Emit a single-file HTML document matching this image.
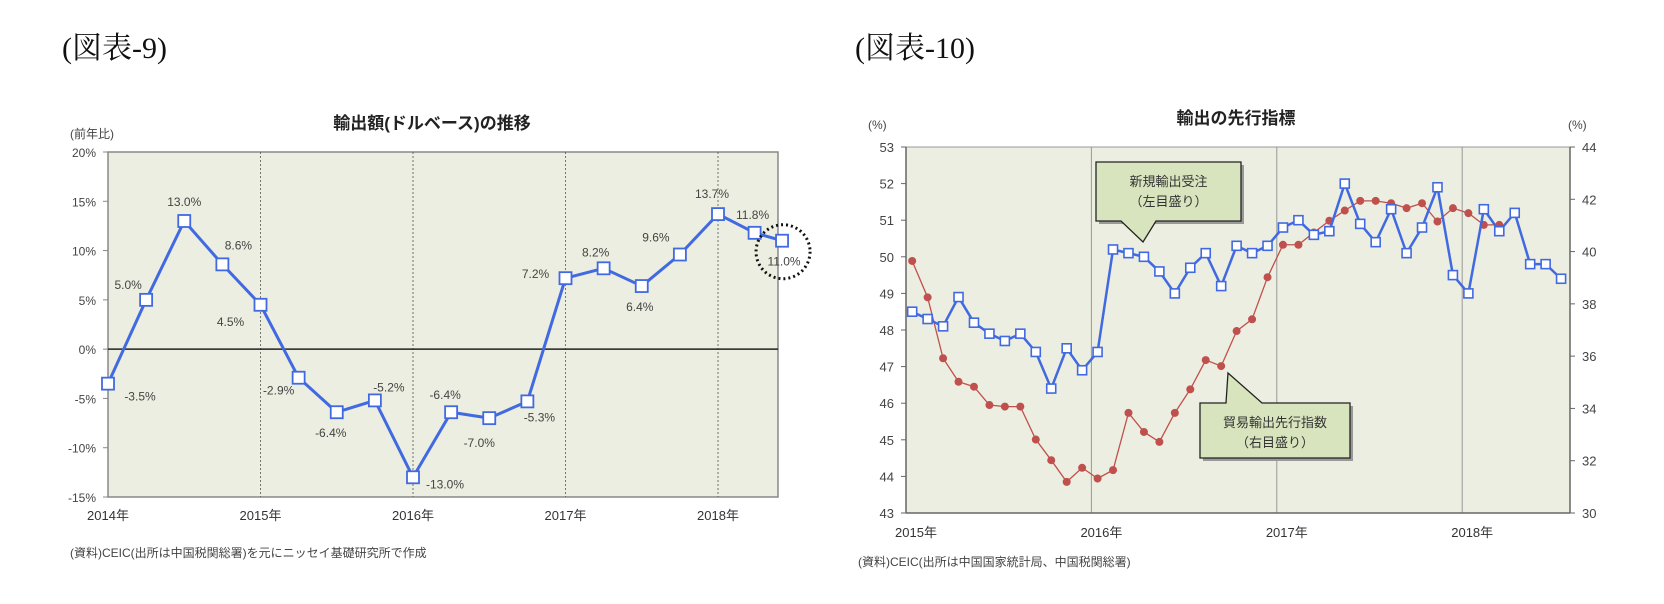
<!DOCTYPE html>
<html><head><meta charset="utf-8"><style>
html,body{margin:0;padding:0;background:#fff;}
svg{display:block;font-family:"Liberation Sans","Noto Sans CJK JP",sans-serif;}
</style></head><body>
<svg id="root" width="1664" height="604" viewBox="0 0 1664 604" xmlns="http://www.w3.org/2000/svg">
<text x="62" y="58" font-family="Liberation Serif, Noto Serif CJK SC, serif" font-size="30" fill="#111">(図表-9)</text>
<text x="855" y="58" font-family="Liberation Serif, Noto Serif CJK SC, serif" font-size="30" fill="#111">(図表-10)</text>
<g id="c1"></g>
<g id="c2"></g>
</svg>
<script>
// ---- Chart 1 data ----
const c1Times = [0,0.25,0.5,0.75,1,1.25,1.5,1.75,2,2.25,2.5,2.75,3,3.25,3.5,3.75,4,4.24,4.42];
const c1Values = [-3.5,5.0,13.0,8.6,4.5,-2.9,-6.4,-5.2,-13.0,-6.4,-7.0,-5.3,7.2,8.2,6.4,9.6,13.7,11.8,11.0];
const c1YTicks = [20,15,10,5,0,-5,-10,-15];
const c1XLabels = ["2014年","2015年","2016年","2017年","2018年"];
// ---- Chart 2 data ----
const c2Orders = [48.5,48.3,48.1,48.9,48.2,47.9,47.7,47.9,47.4,46.4,47.5,46.9,47.4,50.2,50.1,50.0,49.6,49.0,49.7,50.1,49.2,50.3,50.1,50.3,50.8,51.0,50.6,50.7,52.0,50.9,50.4,51.3,50.1,50.8,51.9,49.5,49.0,51.3,50.7,51.2,49.8,49.8,49.4];
const c2Index = [39.64,38.25,35.92,35.02,34.83,34.13,34.07,34.07,32.81,32.02,31.19,31.73,31.32,31.64,33.83,33.10,32.72,33.83,34.73,35.85,35.62,36.96,37.41,39.02,40.26,40.26,40.73,41.18,41.57,41.94,41.94,41.85,41.66,41.85,41.15,41.66,41.47,41.02,41.02];
const c2LeftTicks = [53,52,51,50,49,48,47,46,45,44,43];
const c2RightTicks = [44,42,40,38,36,34,32,30];
const c2XLabels = ["2015年","2016年","2017年","2018年"];

const NS="http://www.w3.org/2000/svg";
function mk(p,tag,a,txt){const e=document.createElementNS(NS,tag);for(const k in a)e.setAttribute(k,a[k]);if(txt!==undefined)e.textContent=txt;p.appendChild(e);return e;}

// ===== Chart 1 =====
(function(){
const g=document.getElementById('c1');
const L=108,R=778,T=152,B=497;
const y=v=>T+(20-v)/35*(B-T);
const x=t=>L+t*152.5;
let e;
e=mk(g,'rect',{x:L,y:T,width:R-L,height:B-T,fill:'#ebeee0',stroke:'#888','stroke-width':1.5});


for(let i=1;i<c1XLabels.length;i++){e=mk(g,'line',{x1:x(i),x2:x(i),y1:T,y2:B,stroke:'#555','stroke-width':0.8,'stroke-dasharray':'2,2'});

}
e=mk(g,'line',{x1:L,x2:R,y1:y(0),y2:y(0),stroke:'#222','stroke-width':1.5});


c1YTicks.forEach(v=>{e=mk(g,'text',{x:L-12,y:y(v)+5,'text-anchor':'end','font-size':12,fill:'#444'},v+'%');


mk(g,'line',{x1:L-5,x2:L,y1:y(v),y2:y(v),stroke:'#888'});});
c1XLabels.forEach((s,i)=>{e=mk(g,'text',{x:x(i),y:520,'text-anchor':'middle','font-size':13,fill:'#333'},s);

});
e=mk(g,'text',{x:432,y:129,'text-anchor':'middle','font-size':17,'font-weight':'bold',fill:'#222'},'輸出額(ドルベース)の推移');


e=mk(g,'text',{x:70,y:138,'font-size':12,fill:'#444'},'(前年比)');


e=mk(g,'text',{x:70,y:557,'font-size':12,fill:'#444'},'(資料)CEIC(出所は中国税関総署)を元にニッセイ基礎研究所で作成');


const pts=c1Values.map((v,i)=>x(c1Times[i])+','+y(v)).join(' ');
e=mk(g,'polyline',{points:pts,fill:'none',stroke:'#4169e1','stroke-width':3,'stroke-linejoin':'round'});


const off=[[32,12],[-18,-16],[0,-20],[16,-20],[-30,16],[-20,12],[-6,20],[14,-14],[32,6],[-6,-18],[-10,24],[12,15],[-30,-5],[-8,-17],[-2,20],[-24,-18],[-6,-21],[-2,-19],[2,20]];
c1Values.forEach((v,i)=>{const cx=x(c1Times[i]),cy=y(v);
e=mk(g,'rect',{x:cx-6,y:cy-6,width:12,height:12,fill:'#fff',stroke:'#4169e1','stroke-width':1.8});


const o=off[i]||[0,-18];
e=mk(g,'text',{x:cx+o[0],y:cy+o[1]+5,'text-anchor':'middle','font-size':12,fill:'#444'},v.toFixed(1)+'%');

});
const li=c1Values.length-1;
e=mk(g,'ellipse',{cx:x(c1Times[li])+1,cy:y(c1Values[li])+11,rx:27,ry:27,fill:'none',stroke:'#111','stroke-width':3,'stroke-dasharray':'2,3'});


})();

// ===== Chart 2 =====
(function(){
const g=document.getElementById('c2');
const L=906,R=1570,T=147,B=513,M=15.45;
const yl=v=>T+(53-v)/10*(B-T);
const yr=v=>T+(44-v)/14*(B-T);
const x=i=>L+(i+0.4)*M;
let e;
e=mk(g,'rect',{x:L,y:T,width:R-L,height:B-T,fill:'#ebeee0',stroke:'#999','stroke-width':1});


for(let k=1;k<c2XLabels.length;k++){e=mk(g,'line',{x1:L+k*12*M,x2:L+k*12*M,y1:T,y2:B,stroke:'#999','stroke-width':1});

}
mk(g,'line',{x1:L,x2:L,y1:T,y2:B,stroke:'#666','stroke-width':1.5});
mk(g,'line',{x1:R,x2:R,y1:T,y2:B,stroke:'#666','stroke-width':1.5});
mk(g,'line',{x1:L,x2:R,y1:B,y2:B,stroke:'#666','stroke-width':1.5});
c2LeftTicks.forEach(v=>{e=mk(g,'text',{x:L-12,y:yl(v)+5,'text-anchor':'end','font-size':13,fill:'#444'},String(v));


mk(g,'line',{x1:L-5,x2:L,y1:yl(v),y2:yl(v),stroke:'#666'});});
c2RightTicks.forEach(v=>{e=mk(g,'text',{x:R+12,y:yr(v)+5,'font-size':13,fill:'#444'},String(v));


mk(g,'line',{x1:R,x2:R+5,y1:yr(v),y2:yr(v),stroke:'#666'});});
c2XLabels.forEach((s,k)=>{e=mk(g,'text',{x:L+k*12*M+10,y:537,'text-anchor':'middle','font-size':13,fill:'#333'},s);

});
e=mk(g,'text',{x:1236,y:124,'text-anchor':'middle','font-size':17,'font-weight':'bold',fill:'#222'},'輸出の先行指標');


e=mk(g,'text',{x:868,y:129,'font-size':12,fill:'#444'},'(%)');


e=mk(g,'text',{x:1568,y:129,'font-size':12,fill:'#444'},'(%)');


e=mk(g,'text',{x:858,y:566,'font-size':12,fill:'#444'},'(資料)CEIC(出所は中国国家統計局、中国税関総署)');


// red series
e=mk(g,'polyline',{points:c2Index.map((v,i)=>x(i)+','+yr(v)).join(' '),fill:'none',stroke:'#c0504d','stroke-width':1.3});


c2Index.forEach((v,i)=>{e=mk(g,'circle',{cx:x(i),cy:yr(v),r:4,fill:'#c0504d'});

});
// blue series
e=mk(g,'polyline',{points:c2Orders.map((v,i)=>x(i)+','+yl(v)).join(' '),fill:'none',stroke:'#4169e1','stroke-width':2.5,'stroke-linejoin':'round'});


c2Orders.forEach((v,i)=>{e=mk(g,'rect',{x:x(i)-4.5,y:yl(v)-4.5,width:9,height:9,fill:'#fff',stroke:'#4169e1','stroke-width':1.6});

});
// callouts
function callout(name,bx,by,bw,bh,poly,l1,l2){
const cg=mk(g,'g',{});


mk(cg,'rect',{x:bx+3,y:by+3,width:bw,height:bh,fill:'#999'});
mk(cg,'polygon',{points:poly,fill:'#d7e4bd',stroke:'#222','stroke-width':1.3});
mk(cg,'text',{x:bx+bw/2,y:by+24,'text-anchor':'middle','font-size':13,fill:'#333'},l1);
mk(cg,'text',{x:bx+bw/2,y:by+44,'text-anchor':'middle','font-size':13,fill:'#333'},l2);}
callout('new-orders-callout',1096,162,145,59,'1096,162 1241,162 1241,221 1156,221 1143,242 1121,221 1096,221','新規輸出受注','（左目盛り）');
callout('trade-index-callout',1200,403,150,55,'1200,403 1226,403 1228,373 1262,403 1350,403 1350,458 1200,458','貿易輸出先行指数','（右目盛り）');
})();
</script>
</body></html>
